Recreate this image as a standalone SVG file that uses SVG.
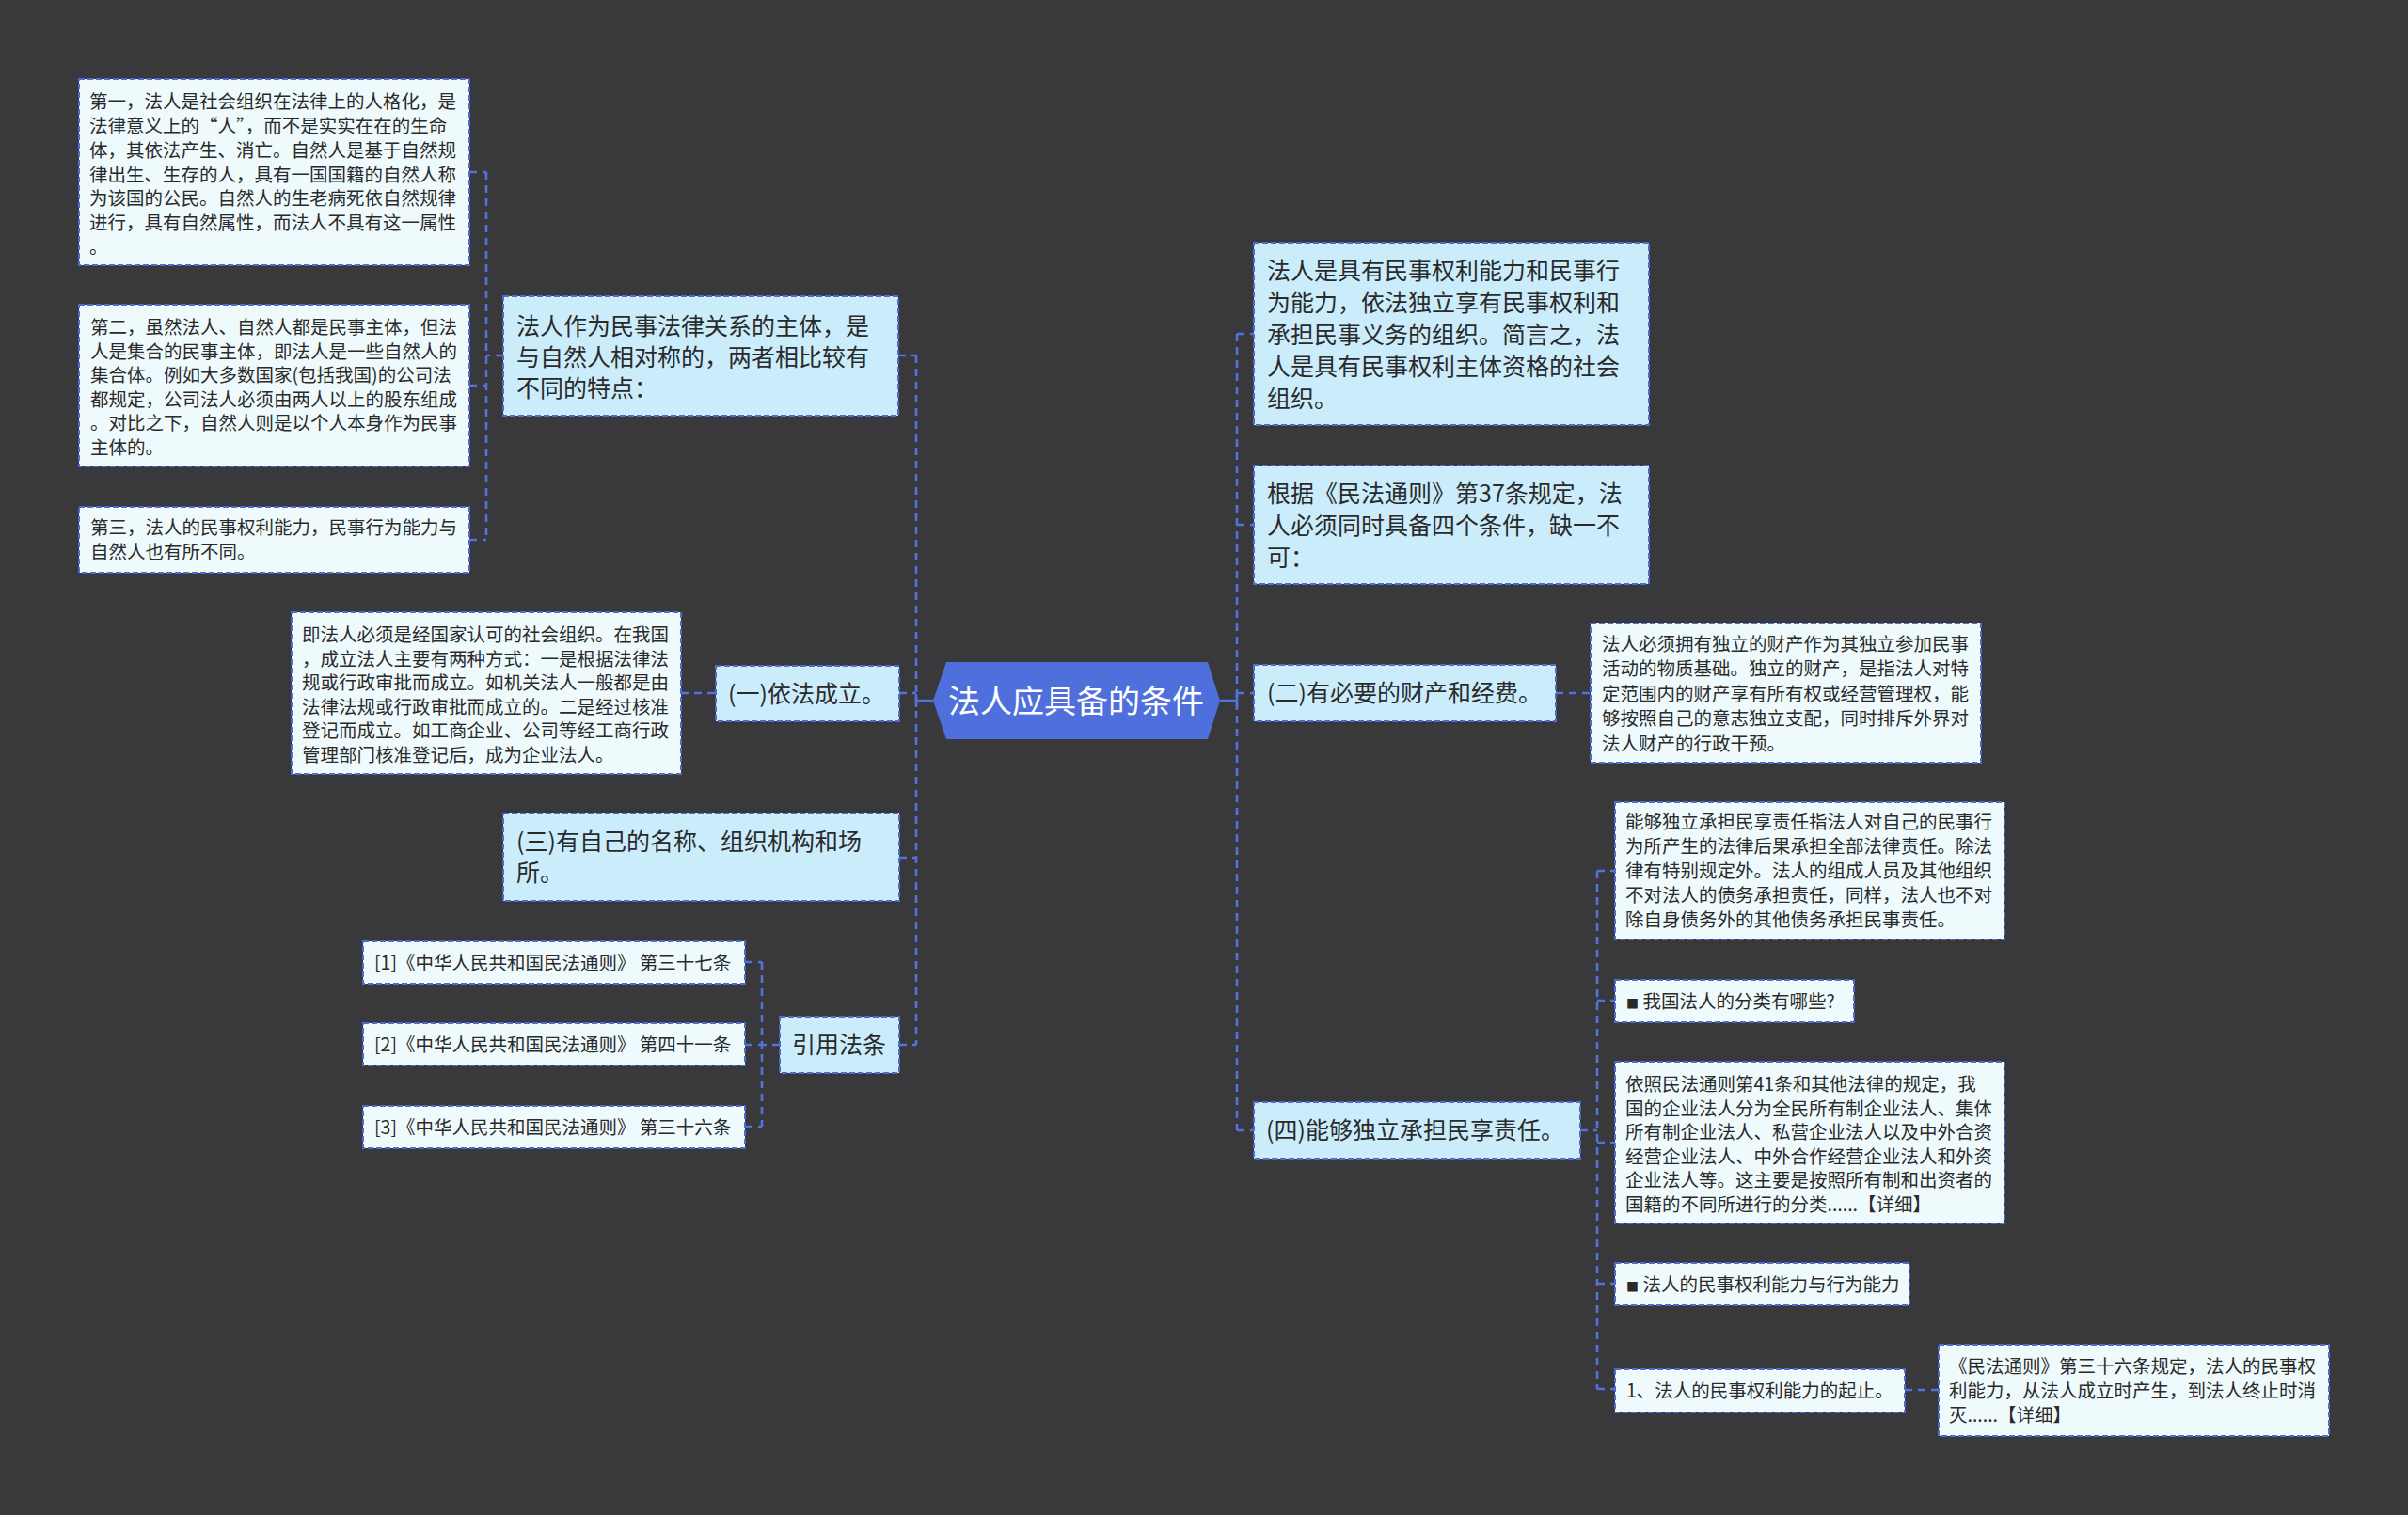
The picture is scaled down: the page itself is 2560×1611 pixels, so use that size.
<svg xmlns="http://www.w3.org/2000/svg" width="2560" height="1611" viewBox="0 0 2560 1611">
<style>
.bg{fill:#39383b}
.main{fill:#cbecfb;stroke:#4f6bd2;stroke-width:2;stroke-dasharray:6 3}
.leaf{fill:#effafd;stroke:#4f6bd2;stroke-width:2;stroke-dasharray:6 3}
.t{font-family:"Noto Sans CJK SC","Noto Sans",sans-serif;fill:#2a2a2a}
.tm{font-size:25px}
.tl{font-size:19.5px}
.sq{font-size:13px}
.conn{fill:none;stroke:#5272dc;stroke-width:2.6;stroke-dasharray:8 6}
.solid{fill:none;stroke:#5272dc;stroke-width:2.6}
</style>
<rect class="bg" x="0" y="0" width="2560" height="1611"/>

<g id="connectors">
  <path class="solid" d="M974 745 H992 M974 738 V752"/>
  <path class="solid" d="M1297 745 H1315 M1315 738 V752"/>
  <path class="conn" d="M974 378 V1111"/>
  <path class="conn" d="M955 378 H974 M956 737 H974 M956 912 H974 M956 1111 H974"/>
  <path class="conn" d="M517 183 V574"/>
  <path class="conn" d="M535 378 H517 M499 183 H517 M499 410 H517 M499 574 H517"/>
  <path class="conn" d="M724 737 H761"/>
  <path class="conn" d="M810 1023 V1198"/>
  <path class="conn" d="M829 1111 H810 M792 1023 H810 M792 1111 H810 M792 1198 H810"/>
  <path class="conn" d="M1315 355 V1202"/>
  <path class="conn" d="M1315 355 H1333 M1315 558 H1333 M1315 737 H1333 M1315 1202 H1333"/>
  <path class="conn" d="M1654 737 H1691"/>
  <path class="conn" d="M1698 926 V1477"/>
  <path class="conn" d="M1680 1202 H1698 M1698 926 H1717 M1698 1064 H1717 M1698 1215 H1717 M1698 1365 H1717 M1698 1477 H1717"/>
  <path class="conn" d="M2025 1478 H2061"/>
</g>

<g id="center">
  <polygon points="992,745 1006,704 1284,704 1297,745 1284,786 1006,786" fill="#4f6fdc"/>
  <text x="1144" y="758" text-anchor="middle" font-family="'Noto Sans CJK SC','Noto Sans',sans-serif" font-size="34" fill="#ffffff">法人应具备的条件</text>
</g>

<g id="L1">
  <rect class="leaf" x="84" y="84" width="415" height="198"/>
  <text class="t tl">
    <tspan x="95" y="115">第一，法人是社会组织在法律上的人格化，是</tspan>
    <tspan x="95" y="141">法律意义上的“人”，而不是实实在在的生命</tspan>
    <tspan x="95" y="167">体，其依法产生、消亡。自然人是基于自然规</tspan>
    <tspan x="95" y="193">律出生、生存的人，具有一国国籍的自然人称</tspan>
    <tspan x="95" y="218">为该国的公民。自然人的生老病死依自然规律</tspan>
    <tspan x="95" y="244">进行，具有自然属性，而法人不具有这一属性</tspan>
    <tspan x="95" y="270">。</tspan>
  </text>
</g>

<g id="L2">
  <rect class="leaf" x="84" y="324" width="415" height="172"/>
  <text class="t tl">
    <tspan x="96" y="355">第二，虽然法人、自然人都是民事主体，但法</tspan>
    <tspan x="96" y="381">人是集合的民事主体，即法人是一些自然人的</tspan>
    <tspan x="96" y="406">集合体。例如大多数国家(包括我国)的公司法</tspan>
    <tspan x="96" y="432">都规定，公司法人必须由两人以上的股东组成</tspan>
    <tspan x="96" y="457">。对比之下，自然人则是以个人本身作为民事</tspan>
    <tspan x="96" y="483">主体的。</tspan>
  </text>
</g>

<g id="L3">
  <rect class="leaf" x="84" y="539" width="415" height="70"/>
  <text class="t tl">
    <tspan x="96" y="568">第三，法人的民事权利能力，民事行为能力与</tspan>
    <tspan x="96" y="594">自然人也有所不同。</tspan>
  </text>
</g>

<g id="M1">
  <rect class="main" x="535" y="315" width="420" height="127"/>
  <text class="t tm">
    <tspan x="549" y="356">法人作为民事法律关系的主体，是</tspan>
    <tspan x="549" y="389">与自然人相对称的，两者相比较有</tspan>
    <tspan x="549" y="422">不同的特点：</tspan>
  </text>
</g>

<g id="M2">
  <rect class="main" x="761" y="708" width="195" height="59"/>
  <text class="t tm" x="774" y="747">(一)依法成立。</text>
</g>

<g id="M2c">
  <rect class="leaf" x="310" y="651" width="414" height="172"/>
  <text class="t tl">
    <tspan x="321" y="682">即法人必须是经国家认可的社会组织。在我国</tspan>
    <tspan x="321" y="708">，成立法人主要有两种方式：一是根据法律法</tspan>
    <tspan x="321" y="733">规或行政审批而成立。如机关法人一般都是由</tspan>
    <tspan x="321" y="759">法律法规或行政审批而成立的。二是经过核准</tspan>
    <tspan x="321" y="784">登记而成立。如工商企业、公司等经工商行政</tspan>
    <tspan x="321" y="810">管理部门核准登记后，成为企业法人。</tspan>
  </text>
</g>

<g id="M3">
  <rect class="main" x="535" y="865" width="421" height="93"/>
  <text class="t tm">
    <tspan x="549" y="904">(三)有自己的名称、组织机构和场</tspan>
    <tspan x="549" y="937">所。</tspan>
  </text>
</g>

<g id="M4">
  <rect class="main" x="829" y="1081" width="127" height="60"/>
  <text class="t tm" x="842" y="1120">引用法条</text>
</g>

<g id="ref1">
  <rect class="leaf" x="386" y="1001" width="406" height="45"/>
  <text class="t tl" x="398" y="1031">[1]《中华人民共和国民法通则》 第三十七条</text>
</g>
<g id="ref2">
  <rect class="leaf" x="386" y="1088" width="406" height="45"/>
  <text class="t tl" x="398" y="1118">[2]《中华人民共和国民法通则》 第四十一条</text>
</g>
<g id="ref3">
  <rect class="leaf" x="386" y="1176" width="406" height="45"/>
  <text class="t tl" x="398" y="1206">[3]《中华人民共和国民法通则》 第三十六条</text>
</g>

<g id="R1">
  <rect class="main" x="1333" y="258" width="420" height="194"/>
  <text class="t tm">
    <tspan x="1347" y="297">法人是具有民事权利能力和民事行</tspan>
    <tspan x="1347" y="331">为能力，依法独立享有民事权利和</tspan>
    <tspan x="1347" y="365">承担民事义务的组织。简言之，法</tspan>
    <tspan x="1347" y="399">人是具有民事权利主体资格的社会</tspan>
    <tspan x="1347" y="433">组织。</tspan>
  </text>
</g>

<g id="R2">
  <rect class="main" x="1333" y="495" width="420" height="126"/>
  <text class="t tm">
    <tspan x="1347" y="534">根据《民法通则》第37条规定，法</tspan>
    <tspan x="1347" y="568">人必须同时具备四个条件，缺一不</tspan>
    <tspan x="1347" y="602">可：</tspan>
  </text>
</g>

<g id="R3">
  <rect class="main" x="1333" y="707" width="321" height="60"/>
  <text class="t tm" x="1347" y="746">(二)有必要的财产和经费。</text>
</g>

<g id="R3c">
  <rect class="leaf" x="1691" y="663" width="415" height="148"/>
  <text class="t tl">
    <tspan x="1703" y="692">法人必须拥有独立的财产作为其独立参加民事</tspan>
    <tspan x="1703" y="718">活动的物质基础。独立的财产，是指法人对特</tspan>
    <tspan x="1703" y="745">定范围内的财产享有所有权或经营管理权，能</tspan>
    <tspan x="1703" y="771">够按照自己的意志独立支配，同时排斥外界对</tspan>
    <tspan x="1703" y="798">法人财产的行政干预。</tspan>
  </text>
</g>

<g id="R4">
  <rect class="main" x="1333" y="1172" width="347" height="60"/>
  <text class="t tm" x="1346" y="1211">(四)能够独立承担民享责任。</text>
</g>

<g id="C1">
  <rect class="leaf" x="1717" y="853" width="414" height="146"/>
  <text class="t tl">
    <tspan x="1728" y="881">能够独立承担民享责任指法人对自己的民事行</tspan>
    <tspan x="1728" y="907">为所产生的法律后果承担全部法律责任。除法</tspan>
    <tspan x="1728" y="933">律有特别规定外。法人的组成人员及其他组织</tspan>
    <tspan x="1728" y="959">不对法人的债务承担责任，同样，法人也不对</tspan>
    <tspan x="1728" y="985">除自身债务外的其他债务承担民事责任。</tspan>
  </text>
</g>

<g id="C2">
  <rect class="leaf" x="1717" y="1042" width="254" height="45"/>
  <text class="t tl" x="1729" y="1072"><tspan class="sq">■</tspan> 我国法人的分类有哪些?</text>
</g>

<g id="C3">
  <rect class="leaf" x="1717" y="1129" width="414" height="172"/>
  <text class="t tl">
    <tspan x="1728" y="1160">依照民法通则第41条和其他法律的规定，我</tspan>
    <tspan x="1728" y="1186">国的企业法人分为全民所有制企业法人、集体</tspan>
    <tspan x="1728" y="1211">所有制企业法人、私营企业法人以及中外合资</tspan>
    <tspan x="1728" y="1237">经营企业法人、中外合作经营企业法人和外资</tspan>
    <tspan x="1728" y="1262">企业法人等。这主要是按照所有制和出资者的</tspan>
    <tspan x="1728" y="1288">国籍的不同所进行的分类......【详细】</tspan>
  </text>
</g>

<g id="C4">
  <rect class="leaf" x="1717" y="1343" width="313" height="45"/>
  <text class="t tl" x="1729" y="1373"><tspan class="sq">■</tspan> 法人的民事权利能力与行为能力</text>
</g>

<g id="C5">
  <rect class="leaf" x="1717" y="1456" width="308" height="46"/>
  <text class="t tl" x="1729" y="1486">1、法人的民事权利能力的起止。</text>
</g>

<g id="C5c">
  <rect class="leaf" x="2061" y="1430" width="415" height="97"/>
  <text class="t tl">
    <tspan x="2072" y="1460">《民法通则》第三十六条规定，法人的民事权</tspan>
    <tspan x="2072" y="1486">利能力，从法人成立时产生，到法人终止时消</tspan>
    <tspan x="2072" y="1512">灭......【详细】</tspan>
  </text>
</g>
</svg>
